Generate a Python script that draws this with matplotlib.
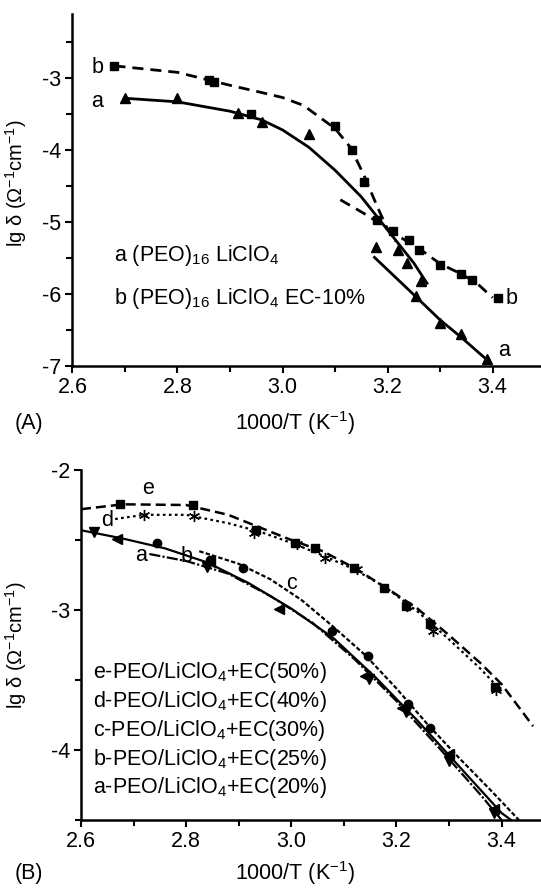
import matplotlib
matplotlib.use('Agg')
import matplotlib.pyplot as plt
from matplotlib.ticker import MultipleLocator, FormatStrFormatter

plt.rcParams['font.family'] = ['Liberation Sans', 'DejaVu Sans']
plt.rcParams['mathtext.fontset'] = 'custom'
plt.rcParams['mathtext.rm'] = 'Liberation Sans'
plt.rcParams['mathtext.it'] = 'Liberation Sans:italic'
plt.rcParams['mathtext.bf'] = 'Liberation Sans:bold'
plt.rcParams['axes.unicode_minus'] = False

# ---------------- Panel A data ----------------
A_a_x = [2.70, 2.80, 2.915, 2.96, 3.05, 3.177, 3.22, 3.237, 3.263, 3.255, 3.30, 3.34, 3.39]
A_a_y = [-3.28, -3.28, -3.48, -3.61, -3.77, -5.35, -5.39, -5.57, -5.82, -6.03, -6.40, -6.55, -6.90]
A_a_fit1_x = [2.70, 2.80, 2.90, 2.96, 3.00, 3.05, 3.10, 3.15, 3.20, 3.25, 3.275]
A_a_fit1_y = [-3.28, -3.33, -3.46, -3.58, -3.72, -3.96, -4.28, -4.65, -5.11, -5.57, -5.85]
A_a_fit2_x = [3.175, 3.25, 3.30, 3.34, 3.39]
A_a_fit2_y = [-5.49, -6.01, -6.36, -6.60, -6.92]

A_b_x = [2.68, 2.86, 2.87, 2.94, 3.10, 3.133, 3.155, 3.18, 3.21, 3.24, 3.26, 3.30, 3.34, 3.36, 3.41]
A_b_y = [-2.83, -3.03, -3.05, -3.50, -3.67, -4.00, -4.44, -4.97, -5.12, -5.25, -5.39, -5.60, -5.72, -5.80, -6.06]
A_b_fit1_x = [2.68, 2.80, 2.90, 2.96, 3.00, 3.04, 3.10, 3.13, 3.155, 3.18, 3.20, 3.215]
A_b_fit1_y = [-2.83, -2.92, -3.10, -3.20, -3.27, -3.38, -3.70, -3.97, -4.35, -4.78, -5.10, -5.27]
A_b_fit2_x = [3.11, 3.155, 3.19, 3.21, 3.24, 3.27, 3.30, 3.34, 3.37, 3.40]
A_b_fit2_y = [-4.69, -4.88, -5.04, -5.15, -5.28, -5.42, -5.58, -5.72, -5.85, -6.05]

# ---------------- Panel B data ----------------
B_e_x = [2.675, 2.813, 2.933, 3.008, 3.045, 3.12, 3.176, 3.218, 3.264, 3.388]
B_e_y = [-2.24, -2.25, -2.43, -2.52, -2.56, -2.70, -2.84, -2.97, -3.10, -3.55]
B_e_fit_x = [2.60, 2.68, 2.80, 2.88, 2.94, 3.00, 3.06, 3.12, 3.18, 3.24, 3.30, 3.36, 3.40, 3.46]
B_e_fit_y = [-2.28, -2.245, -2.25, -2.32, -2.41, -2.50, -2.58, -2.70, -2.84, -2.99, -3.18, -3.38, -3.53, -3.83]

B_d_x = [2.72, 2.815, 2.93, 3.01, 3.065, 3.125, 3.22, 3.27, 3.39]
B_d_y = [-2.32, -2.33, -2.45, -2.53, -2.63, -2.71, -2.97, -3.15, -3.57]
B_d_fit_x = [2.665, 2.72, 2.80, 2.88, 2.94, 3.00, 3.06, 3.12, 3.18, 3.24, 3.30, 3.36, 3.40]
B_d_fit_y = [-2.35, -2.32, -2.32, -2.38, -2.44, -2.52, -2.61, -2.71, -2.84, -3.01, -3.21, -3.42, -3.58]

B_c_x = [2.745, 2.845, 2.908, 3.078, 3.145, 3.222, 3.264]
B_c_y = [-2.52, -2.64, -2.70, -3.15, -3.33, -3.67, -3.84]
B_c_fit_x = [2.825, 2.90, 2.96, 3.02, 3.08, 3.14, 3.20, 3.26, 3.32, 3.38, 3.433]
B_c_fit_y = [-2.58, -2.67, -2.78, -2.93, -3.12, -3.32, -3.56, -3.82, -4.06, -4.29, -4.50]

B_b_x = [2.668, 2.845, 2.976, 3.14, 3.21, 3.30, 3.385]
B_b_y = [-2.49, -2.66, -2.99, -3.47, -3.70, -4.03, -4.42]
B_b_fit_x = [2.60, 2.68, 2.76, 2.84, 2.92, 3.00, 3.08, 3.16, 3.24, 3.32, 3.40, 3.418]
B_b_fit_y = [-2.43, -2.49, -2.56, -2.66, -2.81, -2.99, -3.20, -3.48, -3.79, -4.12, -4.45, -4.50]

B_a_x = [2.625, 2.84, 3.147, 3.218, 3.30, 3.385]
B_a_y = [-2.44, -2.69, -3.49, -3.73, -4.08, -4.45]
B_a_fit_x = [2.73, 2.80, 2.88, 2.96, 3.04, 3.12, 3.20, 3.28, 3.36, 3.40]
B_a_fit_y = [-2.60, -2.65, -2.74, -2.90, -3.09, -3.35, -3.65, -3.98, -4.32, -4.50]

A_legend = [r'a (PEO)$_{16}$ LiClO$_4$', r'b (PEO)$_{16}$ LiClO$_4$ EC-10%']
B_legend = [r'e-PEO/LiClO$_4$+EC(50%)', r'd-PEO/LiClO$_4$+EC(40%)',
            r'c-PEO/LiClO$_4$+EC(30%)', r'b-PEO/LiClO$_4$+EC(25%)',
            r'a-PEO/LiClO$_4$+EC(20%)']

ylabel = r'lg δ (Ω$^{\mathregular{-1}}$cm$^{\mathregular{-1}}$)'
xlabel = r'1000/T (K$^{\mathregular{-1}}$)'

FS = 15.5
FS_Y = 14.5
fig = plt.figure(figsize=(5.41, 8.88), dpi=100)
axA = fig.add_axes([0.1338, 0.5878, 0.8662, 0.3964])
axB = fig.add_axes([0.1497, 0.0766, 0.8503, 0.3941])

for ax in (axA, axB):
    for s in ('top', 'right'):
        ax.spines[s].set_visible(False)
    for s in ('left', 'bottom'):
        ax.spines[s].set_linewidth(1.8)
    ax.xaxis.set_major_locator(MultipleLocator(0.2))
    ax.xaxis.set_minor_locator(MultipleLocator(0.1))
    ax.yaxis.set_major_locator(MultipleLocator(1))
    ax.yaxis.set_minor_locator(MultipleLocator(0.5))
    ax.xaxis.set_major_formatter(FormatStrFormatter('%.1f'))
    ax.yaxis.set_major_formatter(FormatStrFormatter('%d'))
    ax.tick_params(which='major', direction='out', length=5, width=1.5, labelsize=FS, pad=3)
    ax.tick_params(which='minor', direction='out', length=4, width=1.5)

# Panel A
axA.set_xlim(2.6, 3.492)
axA.set_ylim(-7, -2.11)
axA.plot(A_a_fit1_x, A_a_fit1_y, '-', color='black', lw=2)
axA.plot(A_a_fit2_x, A_a_fit2_y, '-', color='black', lw=2)
axA.plot(A_b_fit1_x, A_b_fit1_y, '--', color='black', lw=2, dashes=(4, 2.5))
axA.plot(A_b_fit2_x, A_b_fit2_y, '--', color='black', lw=2, dashes=(4, 2.5))
axA.plot(A_a_x, A_a_y, '^', color='black', ms=7, ls='none')
axA.plot(A_b_x, A_b_y, 's', color='black', ms=6, ls='none')
axA.text(2.659, -2.85, 'b', fontsize=FS, ha='right', va='center')
axA.text(2.659, -3.33, 'a', fontsize=FS, ha='right', va='center')
axA.text(3.425, -6.06, 'b', fontsize=FS, ha='left', va='center')
axA.text(3.41, -6.78, 'a', fontsize=FS, ha='left', va='center')
axA.text(2.679, -5.46, A_legend[0], fontsize=FS, ha='left', va='center')
axA.text(2.679, -6.06, A_legend[1], fontsize=FS, ha='left', va='center')
axA.set_ylabel(ylabel, fontsize=FS_Y)
axA.yaxis.set_label_coords(-0.093, 0.52)
fig.text(295 / 541, 1 - 423 / 888, xlabel, fontsize=FS, ha='center', va='center')
fig.text(15 / 541, 1 - 423 / 888, '(A)', fontsize=FS, ha='left', va='center')

# Panel B
axB.set_xlim(2.6, 3.475)
axB.set_ylim(-4.5, -2)
axB.plot(B_e_fit_x, B_e_fit_y, color='black', lw=1.8, dashes=(4, 2))
axB.plot(B_d_fit_x, B_d_fit_y, color='black', lw=1.6, dashes=(1.2, 1.5))
axB.plot(B_c_fit_x, B_c_fit_y, color='black', lw=1.6, dashes=(2, 1))
axB.plot(B_b_fit_x, B_b_fit_y, color='black', lw=1.6, ls='-')
axB.plot(B_a_fit_x, B_a_fit_y, color='black', lw=1.6, dashes=(5, 1, 1, 1))
axB.plot(B_e_x, B_e_y, 's', color='black', ms=6, ls='none')
axB.plot(B_d_x, B_d_y, marker=(6, 2, 0), color='black', ms=8, mew=1, ls='none')
axB.plot(B_c_x, B_c_y, 'o', color='black', ms=6, ls='none')
axB.plot(B_b_x, B_b_y, '<', color='black', ms=7, ls='none')
axB.plot(B_a_x, B_a_y, 'v', color='black', ms=7, ls='none')
axB.text(2.728, -2.13, 'e', fontsize=FS, ha='center', va='center')
axB.text(2.649, -2.36, 'd', fontsize=FS, ha='center', va='center')
axB.text(2.715, -2.61, 'a', fontsize=FS, ha='center', va='center')
axB.text(2.80, -2.62, 'b', fontsize=FS, ha='center', va='center')
axB.text(3.00, -2.81, 'c', fontsize=FS, ha='center', va='center')
for i, t in enumerate(B_legend):
    axB.text(2.623, -3.45 - 0.205 * i, t, fontsize=FS, ha='left', va='center')
axB.set_ylabel(ylabel, fontsize=FS_Y)
axB.yaxis.set_label_coords(-0.113, 0.50)
fig.text(295 / 541, 1 - 873 / 888, xlabel, fontsize=FS, ha='center', va='center')
fig.text(15 / 541, 1 - 873 / 888, '(B)', fontsize=FS, ha='left', va='center')

fig.savefig('out.png', dpi=100)
